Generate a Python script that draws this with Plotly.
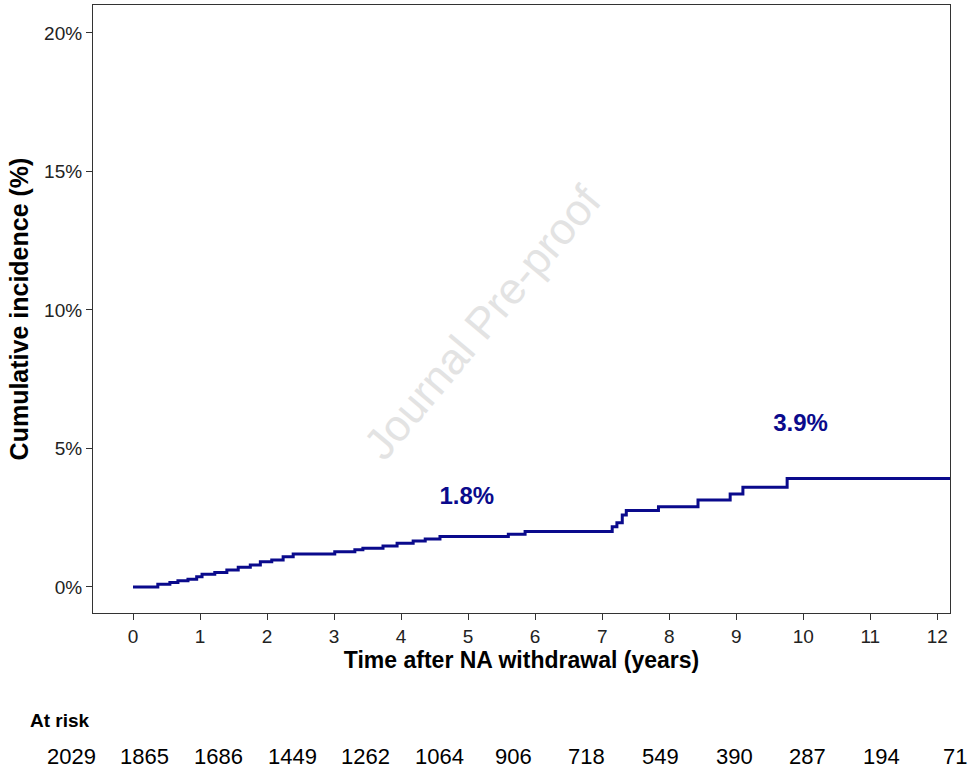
import plotly.graph_objects as go

# Cumulative incidence step curve (years, %)
time_years = [0, 0.37, 0.55, 0.67, 0.82, 0.95, 1.03, 1.22, 1.40, 1.57, 1.75, 1.90, 2.07, 2.24, 2.39,
              3.01, 3.31, 3.43, 3.73, 3.94, 4.18, 4.36, 4.58, 5.60, 5.85, 7.09, 7.15, 7.22, 7.30,
              7.36, 7.84, 8.43, 8.91, 9.10, 9.76, 12.3]
cum_inc = [0, 0.10, 0.16, 0.22, 0.28, 0.37, 0.46, 0.52, 0.61, 0.71, 0.79, 0.91, 0.97, 1.09, 1.19,
           1.27, 1.34, 1.40, 1.48, 1.58, 1.66, 1.73, 1.82, 1.90, 2.00, 2.00, 2.17, 2.32, 2.60,
           2.76, 2.90, 3.14, 3.36, 3.60, 3.92, 3.92]

x_ticks = list(range(0, 13))
y_ticks = [0, 5, 10, 15, 20]
y_tick_labels = ["0%", "5%", "10%", "15%", "20%"]

at_risk = [2029, 1865, 1686, 1449, 1262, 1064, 906, 718, 549, 390, 287, 194, 71]

labels_text = ["1.8%", "3.9%"]
labels_x = [4.98, 9.96]
labels_y = [3.2, 5.85]

line_color = "#0A0A8C"
font_family = "Liberation Sans, Arial, sans-serif"

W, H = 968, 772
M_L, M_R, M_T, M_B = 93, 18, 5, 159
plot_w = W - M_L - M_R
plot_h = H - M_T - M_B

fig = go.Figure()
fig.add_trace(go.Scatter(x=time_years, y=cum_inc, mode="lines", line_shape="hv",
                         line=dict(color=line_color, width=3), showlegend=False, hoverinfo="skip"))

# labels on curve
fig.add_trace(go.Scatter(x=labels_x, y=labels_y, mode="text", text=labels_text,
                         textfont=dict(family=font_family, size=24, color=line_color, weight="bold"),
                         showlegend=False, hoverinfo="skip"))

annotations = []
# watermark
annotations.append(dict(x=5.22, y=9.57, xref="x", yref="y", text="Journal Pre-proof",
                        showarrow=False, textangle=-50,
                        font=dict(family=font_family, size=44, color="#E3E3E3")))
# at-risk table: evenly spaced columns across the figure width
table_left, table_right = 71, 955
n_cols = len(at_risk)
row_title_y = -(720 - (H - M_B)) / plot_h
row_y = -(756 - (H - M_B)) / plot_h
annotations.append(dict(x=(28 - M_L) / plot_w, y=row_title_y, xref="paper", yref="paper",
                        text="<b>At risk</b>", showarrow=False, xanchor="left", yanchor="middle",
                        font=dict(family=font_family, size=19, color="black")))
for i, n in enumerate(at_risk):
    col_px = table_left + (table_right - table_left) * i / (n_cols - 1)
    annotations.append(dict(x=(col_px - M_L) / plot_w, y=row_y, xref="paper", yref="paper",
                            text=str(n), showarrow=False, xanchor="center", yanchor="middle",
                            font=dict(family=font_family, size=22, color="black")))

fig.update_layout(
    width=W, height=H,
    margin=dict(l=M_L, r=M_R, t=M_T, b=M_B),
    paper_bgcolor="white", plot_bgcolor="white",
    font=dict(family=font_family),
    annotations=annotations,
    xaxis=dict(range=[-0.597, 12.19], tickvals=x_ticks, ticks="outside", ticklen=6,
               tickcolor="#333", showline=True, linecolor="#333", linewidth=1.2, mirror=True,
               showgrid=False, zeroline=False,
               tickfont=dict(size=19, color="#222"),
               title=dict(text="<b>Time after NA withdrawal (years)</b>",
                          font=dict(size=23, color="black"), standoff=4)),
    yaxis=dict(range=[-0.94, 21.01], tickvals=y_ticks, ticktext=y_tick_labels, ticks="outside",
               ticklen=6, tickcolor="#333", showline=True, linecolor="#333", linewidth=1.2,
               mirror=True, showgrid=False, zeroline=False,
               tickfont=dict(size=19, color="#222"),
               title=dict(text="<b>Cumulative incidence (%)</b>",
                          font=dict(size=25, color="black"), standoff=8)),
)

fig.write_html("out.html")
